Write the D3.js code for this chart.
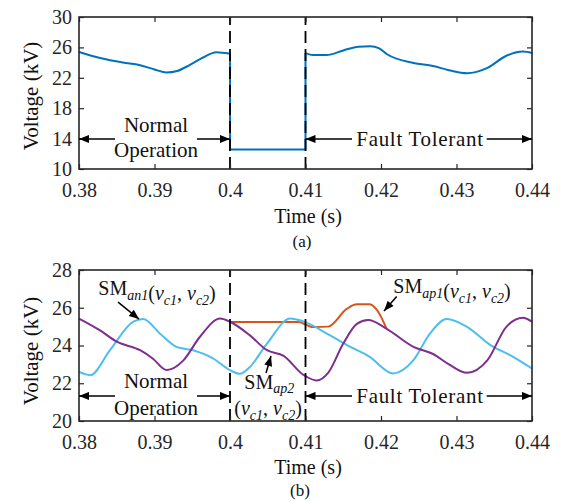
<!DOCTYPE html>
<html>
<head>
<meta charset="utf-8">
<script src="https://cdn.jsdelivr.net/npm/d3@7"></script>
<style>
  body { margin: 0; background: #fff; }
  svg, svg text { font-family: "Liberation Serif", "Tinos", "Times New Roman", serif; }
  .tick text { font-size: 20px; fill: #262626; }
  .tick line { stroke: #262626; stroke-width: 1.2; }
  .lbl { font-size: 21px; fill: #111; }
</style>
</head>
<body>
<div id="chart"></div>
<script>
// ---- data ----
var xTicks = [0.38, 0.39, 0.4, 0.41, 0.42, 0.43, 0.44];
var topYTicks = [10, 14, 18, 22, 26, 30];
var botYTicks = [20, 22, 24, 26, 28];

// (a) capacitor voltage, normal part
var topNormalT = [0.3800, 0.3828, 0.3858, 0.3881, 0.3900, 0.3916, 0.3930, 0.3947, 0.3965, 0.3982, 0.4000];
var topNormalV = [25.40, 24.60, 24.00, 23.65, 23.10, 22.70, 22.90, 23.70, 24.70, 25.35, 25.15];
// (a) bypassed interval level
var topStepT = [0.4, 0.41];
var topStepV = 12.55;
// (a) fault tolerant part
var topFaultT = [0.4100, 0.4110, 0.4128, 0.4150, 0.4170, 0.4186, 0.4197, 0.4208, 0.4243, 0.4269, 0.4290, 0.4314, 0.4341, 0.4366, 0.4388, 0.4400];
var topFaultV = [25.25, 25.00, 25.00, 25.60, 26.10, 26.15, 25.90, 25.10, 23.95, 23.55, 23.00, 22.60, 23.30, 24.90, 25.45, 25.25];

// (b) SMan1 (cyan)
var an1T = [0.3800, 0.3815, 0.3841, 0.3872, 0.3885, 0.3907, 0.3929, 0.3951, 0.3978, 0.4000, 0.4013, 0.4026, 0.4049, 0.4080, 0.4097, 0.4132, 0.4155, 0.4185, 0.4216, 0.4243, 0.4265, 0.4287, 0.4314, 0.4344, 0.4375, 0.4400];
var an1V = [22.60, 22.43, 23.75, 25.26, 25.40, 24.64, 23.93, 23.75, 23.31, 22.69, 22.50, 22.85, 24.10, 25.43, 25.28, 24.55, 24.02, 23.40, 22.52, 23.22, 24.64, 25.40, 24.99, 24.05, 23.40, 22.78];
// (b) SMap2 (purple)
var ap2T = [0.3800, 0.3828, 0.3850, 0.3881, 0.3898, 0.3916, 0.3938, 0.3960, 0.3987, 0.4000, 0.4026, 0.4049, 0.4071, 0.4097, 0.4115, 0.4130, 0.4150, 0.4168, 0.4183, 0.4207, 0.4243, 0.4269, 0.4290, 0.4314, 0.4341, 0.4366, 0.4388, 0.4400];
var ap2V = [25.43, 24.80, 24.20, 23.75, 23.30, 22.70, 23.20, 24.45, 25.43, 25.26, 24.55, 23.75, 23.45, 22.45, 22.15, 22.55, 24.10, 25.15, 25.35, 24.90, 23.93, 23.55, 23.00, 22.55, 23.22, 24.99, 25.47, 25.26];
// (b) SMap1 (orange), only shown while bypassed / recovering
var ap1T = [0.4000, 0.4090, 0.4110, 0.4130, 0.4155, 0.4168, 0.4185, 0.4196, 0.4207];
var ap1V = [25.24, 25.24, 24.98, 25.00, 25.95, 26.18, 26.18, 25.80, 24.92];

var faultTimes = [0.4, 0.41];

// ---- layout ----
var width = 561, height = 502,
    left = 79, right = 532;

var svg = d3.select('#chart').append('svg')
    .attr('width', width)
    .attr('height', height);

var defs = svg.append('defs');
defs.append('marker')
    .attr('id', 'arr')
    .attr('viewBox', '0 0 10 8')
    .attr('refX', 10).attr('refY', 4)
    .attr('markerWidth', 11).attr('markerHeight', 8)
    .attr('markerUnits', 'userSpaceOnUse')
    .attr('orient', 'auto')
    .append('path')
    .attr('d', 'M0,0L10,4L0,8z')
    .attr('fill', '#000');

var x = d3.scaleLinear().domain([0.38, 0.44]).range([left, right]);
var yTop = d3.scaleLinear().domain([10, 30]).range([169, 17]);
var yBot = d3.scaleLinear().domain([20, 28]).range([421, 270]);

function zip(t, v) {
    return t.map(function (d, i) { return [d, v[i]]; });
}

function curve(g, y, pts, color, kind) {
    var line = d3.line()
        .x(function (d) { return x(d[0]); })
        .y(function (d) { return y(d[1]); })
        .curve(kind || d3.curveMonotoneX);
    g.append('path')
        .attr('d', line(pts))
        .attr('fill', 'none')
        .attr('stroke', color)
        .attr('stroke-width', 2);
}

function dashed(g, y) {
    faultTimes.forEach(function (t) {
        g.append('line')
            .attr('x1', x(t)).attr('x2', x(t))
            .attr('y1', y.range()[0]).attr('y2', y.range()[1])
            .attr('stroke', '#000')
            .attr('stroke-width', 1.8)
            .attr('stroke-dasharray', '12,6');
    });
}

function frame(g, y, yTicks) {
    var y0 = y.range()[0], y1 = y.range()[1];
    g.append('g').attr('transform', 'translate(0,' + y0 + ')')
        .call(d3.axisBottom(x).tickValues(xTicks).tickFormat(function (d) { return d; })
            .tickSizeInner(-5).tickSizeOuter(0).tickPadding(14));
    g.append('g').attr('transform', 'translate(0,' + y1 + ')')
        .call(d3.axisTop(x).tickValues(xTicks).tickFormat('')
            .tickSizeInner(-5).tickSizeOuter(0));
    g.append('g').attr('transform', 'translate(' + left + ',0)')
        .call(d3.axisLeft(y).tickValues(yTicks).tickFormat(function (d) { return d; })
            .tickSizeInner(-5).tickSizeOuter(0).tickPadding(7));
    g.append('g').attr('transform', 'translate(' + right + ',0)')
        .call(d3.axisRight(y).tickValues(yTicks).tickFormat('')
            .tickSizeInner(-5).tickSizeOuter(0));
    g.selectAll('.domain').remove();
    g.selectAll('g[font-family]').attr('font-family', null).attr('font-size', null);
    g.append('rect')
        .attr('x', left).attr('y', y1)
        .attr('width', right - left).attr('height', y0 - y1)
        .attr('fill', 'none')
        .attr('stroke', '#262626')
        .attr('stroke-width', 1.6);
}

function text(g, tx, ty, s, anchor) {
    return g.append('text')
        .attr('class', 'lbl')
        .attr('x', tx).attr('y', ty)
        .attr('text-anchor', anchor || 'middle')
        .text(s);
}

function arrow(g, y, t0, v0, t1, v1) {
    g.append('line')
        .attr('x1', x(t0)).attr('y1', y(v0))
        .attr('x2', x(t1)).attr('y2', y(v1))
        .attr('stroke', '#000')
        .attr('stroke-width', 1.5)
        .attr('marker-end', 'url(#arr)');
}

// adds "SM_sub" and "(v_c1, v_c2)" tspans
function smText(el, sub, drop) {
    drop = drop || 5;
    el.append('tspan').text('SM');
    el.append('tspan').attr('font-style', 'italic').attr('font-size', 14).attr('dy', drop).text(sub);
    el.append('tspan').attr('dy', -drop).text('');
}
function vcText(el) {
    el.append('tspan').text('(');
    el.append('tspan').attr('font-style', 'italic').text('v');
    el.append('tspan').attr('font-style', 'italic').attr('font-size', 14).attr('dy', 5).text('c1');
    el.append('tspan').attr('dy', -5).text(', ');
    el.append('tspan').attr('font-style', 'italic').text('v');
    el.append('tspan').attr('font-style', 'italic').attr('font-size', 14).attr('dy', 5).text('c2');
    el.append('tspan').attr('dy', -5).text(')');
}

function regionLabels(g, y, yArrow, yNormal, yOper, yFault) {
    text(g, x(0.3902), y(yNormal), 'Normal');
    text(g, x(0.3902), y(yOper), 'Operation');
    arrow(g, y, 0.38477, yArrow, 0.38, yArrow);
    arrow(g, y, 0.39563, yArrow, 0.40, yArrow);
    text(g, x(0.42517), y(yFault), 'Fault Tolerant').style('letter-spacing', '0.7px');
    arrow(g, y, 0.41616, yArrow, 0.41, yArrow);
    arrow(g, y, 0.4340, yArrow, 0.44, yArrow);
}

// ---- panel (a) ----
var ga = svg.append('g');
curve(ga, yTop, zip(topNormalT, topNormalV), '#0072BD');
curve(ga, yTop, [
    [topStepT[0], topNormalV[topNormalV.length - 1]],
    [topStepT[0], topStepV],
    [topStepT[1], topStepV],
    [topStepT[1], topFaultV[0]]
], '#0072BD', d3.curveLinear);
curve(ga, yTop, zip(topFaultT, topFaultV), '#0072BD');
dashed(ga, yTop);
frame(ga, yTop, topYTicks);
regionLabels(ga, yTop, 13.95, 14.87, 11.58, 13.07);

ga.append('text').attr('class', 'lbl')
    .attr('transform', 'translate(38,96) rotate(-90)')
    .attr('text-anchor', 'middle')
    .text('Voltage (kV)');
text(ga, 308, 223, 'Time (s)').style('font-size', '20px');
text(ga, 302, 247, '(a)').style('font-size', '17px');

// ---- panel (b) ----
var gb = svg.append('g');
curve(gb, yBot, zip(ap1T, ap1V), '#D95319');
curve(gb, yBot, zip(an1T, an1V), '#4DBEEE');
curve(gb, yBot, zip(ap2T, ap2V), '#7E2F8E');
dashed(gb, yBot);
frame(gb, yBot, botYTicks);
regionLabels(gb, yBot, 21.33, 21.75, 20.32, 20.97);

var t1 = text(gb, x(0.38256), yBot(26.66), '', 'start').style('font-size', '20px');
smText(t1, 'an1'); vcText(t1);
arrow(gb, yBot, 0.38517, 26.30, 0.38795, 25.40);

var t2 = text(gb, x(0.4019), yBot(21.67), '', 'start').style('font-size', '20px');
smText(t2, 'ap2', 4);
var t3 = text(gb, x(0.40057), yBot(20.32), '', 'start').style('font-size', '20px');
vcText(t3);
arrow(gb, yBot, 0.40477, 22.54, 0.40543, 23.44);

var t4 = text(gb, x(0.42163), yBot(26.80), '', 'start').style('font-size', '20px');
smText(t4, 'ap1'); vcText(t4);
arrow(gb, yBot, 0.42208, 26.59, 0.4204, 25.83);

gb.append('text').attr('class', 'lbl')
    .attr('transform', 'translate(38,351) rotate(-90)')
    .attr('text-anchor', 'middle')
    .text('Voltage (kV)');
text(gb, 308, 474, 'Time (s)').style('font-size', '20px');
text(gb, 300, 496, '(b)').style('font-size', '17px');
</script>
</body>
</html>
